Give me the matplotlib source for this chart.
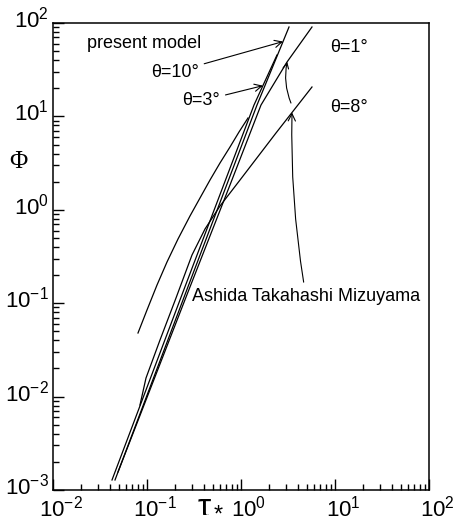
import numpy as np
import matplotlib.pyplot as plt
import matplotlib.transforms as mtransforms
from matplotlib.ticker import LogLocator, NullFormatter

plt.rcParams['font.family'] = ['Liberation Sans', 'DejaVu Sans']
plt.rcParams['mathtext.default'] = 'regular'

# present model, theta = 10 deg and 3 deg
tau_p10 = [0.04567, 0.260, 1.480, 3.241]
phi_p10 = [0.00128, 0.1318, 13.24, 90.6]
tau_p3 = [0.04243, 0.2415, 1.375, 2.415]
phi_p3 = [0.00128, 0.1318, 13.24, 45.4]

# Ashida Takahashi Mizuyama, theta = 1 deg and 8 deg
tau_a1 = [0.04915, 0.2731, 0.7638, 1.632, 3.086, 5.69]
phi_a1 = [0.00156, 0.1318, 1.845, 13.24, 38.2, 90.6]
tau_a8 = [0.0842, 0.09759, 0.1375, 0.2035, 0.3011, 0.414, 0.5977, 0.9759, 2.356, 5.69]
phi_a8 = [0.00813, 0.01581, 0.04036, 0.1137, 0.3281, 0.6228, 1.098, 2.084, 6.643, 20.64]

# upper left curve
tau_c = [0.0802, 0.100, 0.1278, 0.1632, 0.2137, 0.2866, 0.3663, 0.468, 0.5977, 0.7638, 0.9522, 1.187]
phi_c = [0.04797, 0.08456, 0.1566, 0.2761, 0.4868, 0.8582, 1.338, 2.084, 3.170, 4.704, 6.808, 9.614]


def on_curve(xs, ys, x):
    return 10 ** np.interp(np.log10(x), np.log10(xs), np.log10(ys))


fig = plt.figure(figsize=(4.59, 5.23), dpi=100)
ax = fig.add_axes([53 / 459, 33 / 523, 376 / 459, 467 / 523])

for xs, ys in [(tau_p10, phi_p10), (tau_p3, phi_p3), (tau_a1, phi_a1), (tau_a8, phi_a8), (tau_c, phi_c)]:
    ax.plot(xs, ys, color='black', lw=0.9)

ax.set_xscale('log')
ax.set_yscale('log')
ax.set_xlim(1e-2, 1e2)
ax.set_ylim(1e-3, 1e2)

for axis in [ax.xaxis, ax.yaxis]:
    axis.set_major_locator(LogLocator(base=10, numticks=20))
    axis.set_minor_locator(LogLocator(base=10, subs=np.arange(2, 10), numticks=100))
    axis.set_minor_formatter(NullFormatter())

ax.tick_params(which='both', direction='in', top=False, right=False, labelsize=16, width=1)
ax.tick_params(axis='x', pad=4)
ax.tick_params(axis='y', pad=3)
ax.tick_params(which='major', length=8)
ax.tick_params(which='minor', length=4.5)
for sp in ax.spines.values():
    sp.set_linewidth(1.1)

# the printed labels sit a little right of / above their ticks
fig.canvas.draw()
shift_x = mtransforms.ScaledTranslation(8 / 100, 0, fig.dpi_scale_trans)
shift_y = mtransforms.ScaledTranslation(0, 6 / 100, fig.dpi_scale_trans)
for lab in ax.get_xticklabels():
    lab.set_transform(lab.get_transform() + shift_x)
for lab in ax.get_yticklabels():
    lab.set_transform(lab.get_transform() + shift_y)

arrow = dict(arrowstyle='->', lw=0.8, color='black', shrinkA=2, shrinkB=0)

ax.text(0.09, 0.957, 'present model', transform=ax.transAxes, ha='left', va='center', fontsize=13)
ax.annotate('θ=10°', xy=(2.8, on_curve(tau_p10, phi_p10, 2.8)), xytext=(0.324, 0.895),
            textcoords='axes fraction', ha='center', va='center', fontsize=13, arrowprops=arrow)
ax.annotate('θ=3°', xy=(1.71, on_curve(tau_p3, phi_p3, 1.71)), xytext=(0.394, 0.833),
            textcoords='axes fraction', ha='center', va='center', fontsize=13, arrowprops=arrow)
ax.text(0.787, 0.9486, 'θ=1°', transform=ax.transAxes, ha='center', va='center', fontsize=13)
ax.text(0.787, 0.820, 'θ=8°', transform=ax.transAxes, ha='center', va='center', fontsize=13)
ax.annotate('Ashida Takahashi Mizuyama', xy=(3.49, on_curve(tau_a8, phi_a8, 3.49)), xytext=(0.673, 0.415),
            textcoords='axes fraction', ha='center', va='center', fontsize=13,
            arrowprops=dict(arrow, connectionstyle='arc3,rad=-0.05'))
ax.annotate('', xy=(3.1, on_curve(tau_a1, phi_a1, 3.1)), xytext=(3.4, 13.9),
            arrowprops=dict(arrow, shrinkA=0, connectionstyle='arc3,rad=-0.15'))

fig.text(18 / 459, 1 - 162 / 523, 'Φ', family='Liberation Serif', fontsize=18, ha='center', va='center')
fig.text(211 / 459, 1 - 503 / 523, r'$\tau_*$', math_fontfamily='stix', fontsize=24, ha='center', va='center')

fig.savefig('out.png', dpi=100)
